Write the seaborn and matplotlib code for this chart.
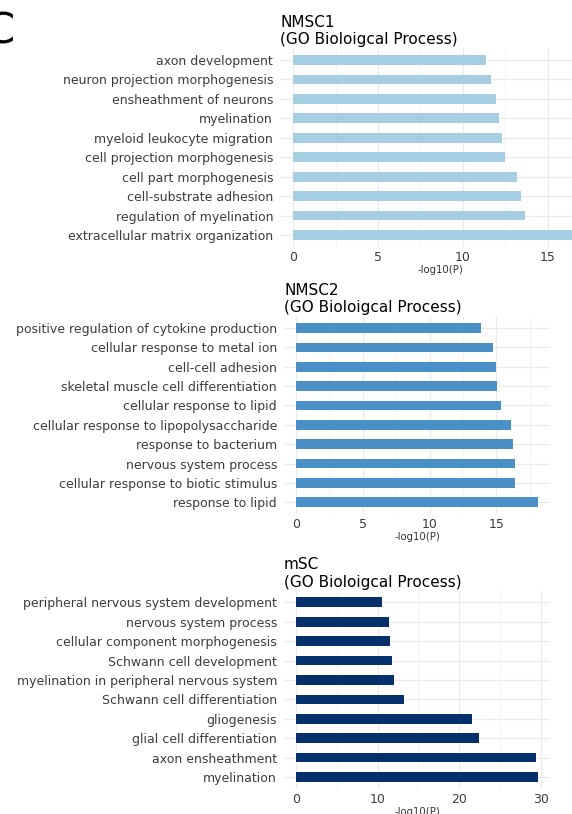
import matplotlib
matplotlib.use("Agg")
import matplotlib.pyplot as plt
from matplotlib.ticker import MultipleLocator
import pandas as pd
import seaborn as sns

# Data (top to bottom within each panel)
nmsc1_terms = [
    "axon development", "neuron projection morphogenesis", "ensheathment of neurons",
    "myelination", "myeloid leukocyte migration", "cell projection morphogenesis",
    "cell part morphogenesis", "cell-substrate adhesion", "regulation of myelination",
    "extracellular matrix organization",
]
nmsc1_vals = [11.34, 11.67, 11.97, 12.13, 12.31, 12.48, 13.17, 13.43, 13.66, 17.2]

nmsc2_terms = [
    "positive regulation of cytokine production", "cellular response to metal ion",
    "cell-cell adhesion", "skeletal muscle cell differentiation", "cellular response to lipid",
    "cellular response to lipopolysaccharide", "response to bacterium",
    "nervous system process", "cellular response to biotic stimulus", "response to lipid",
]
nmsc2_vals = [13.83, 14.78, 14.97, 15.05, 15.34, 16.09, 16.24, 16.37, 16.37, 18.11]

msc_terms = [
    "peripheral nervous system development", "nervous system process",
    "cellular component morphogenesis", "Schwann cell development",
    "myelination in peripheral nervous system", "Schwann cell differentiation",
    "gliogenesis", "glial cell differentiation", "axon ensheathment", "myelination",
]
msc_vals = [10.59, 11.40, 11.49, 11.77, 12.01, 13.24, 21.58, 22.40, 29.42, 29.67]

titles = ["NMSC1\n(GO Bioloigcal Process)", "NMSC2\n(GO Bioloigcal Process)",
          "mSC\n(GO Bioloigcal Process)"]
colors = ["#a6cee3", "#4a90c6", "#06306b"]

sns.set_style("white")
plt.rcParams["font.family"] = ["DejaVu Sans"]

W, H = 572, 814
fig = plt.figure(figsize=(W / 100, H / 100), dpi=100)


def add_panel(left, right, top, bottom):
    return fig.add_axes([left / W, 1 - bottom / H, (right - left) / W, (bottom - top) / H])


panels = [
    (nmsc1_terms, nmsc1_vals, add_panel(280, 600, 48.4, 246.6), (-0.78, 18.08), 5),
    (nmsc2_terms, nmsc2_vals, add_panel(284, 550, 316.4, 513.9), None, 5),
    (msc_terms, msc_vals, add_panel(284, 550, 590.7, 788.6), None, 10),
]

for (terms, vals, ax, xlim, step), title, color in zip(panels, titles, colors):
    df = pd.DataFrame({"term": terms, "value": vals})
    sns.barplot(data=df, x="value", y="term", orient="h", color=color,
                width=0.5, saturation=1, ax=ax, zorder=2)
    for p in ax.patches:
        p.set_edgecolor("none")
    if xlim is None:
        vmax = max(vals)
        xlim = (-0.05 * vmax, 1.05 * vmax)
    ax.set_xlim(*xlim)
    ax.set_ylim(len(terms) - 0.4, -0.6)
    ax.xaxis.set_major_locator(MultipleLocator(step))
    ax.xaxis.set_minor_locator(MultipleLocator(step / 2))
    ax.grid(True, which="major", color="#ebebeb", linewidth=0.9, zorder=0)
    ax.grid(True, which="minor", axis="x", color="#f2f2f2", linewidth=0.6, zorder=0)
    ax.set_axisbelow(True)
    for s in ax.spines.values():
        s.set_visible(False)
    ax.tick_params(axis="both", which="both", length=0, colors="#3c3c3c")
    ax.tick_params(axis="y", labelsize=9, pad=5)
    ax.tick_params(axis="x", labelsize=9, pad=3)
    ax.set_ylabel("")
    ax.set_xlabel("-log10(P)", fontsize=7.3, color="#333333", labelpad=1)
    ax.set_title(title, loc="left", fontsize=11, pad=3, color="black")

fig.text(-14 / W, 1 - 44 / H, "C", fontsize=30, ha="left", va="baseline", color="black")

fig.savefig("out.png", dpi=100)
